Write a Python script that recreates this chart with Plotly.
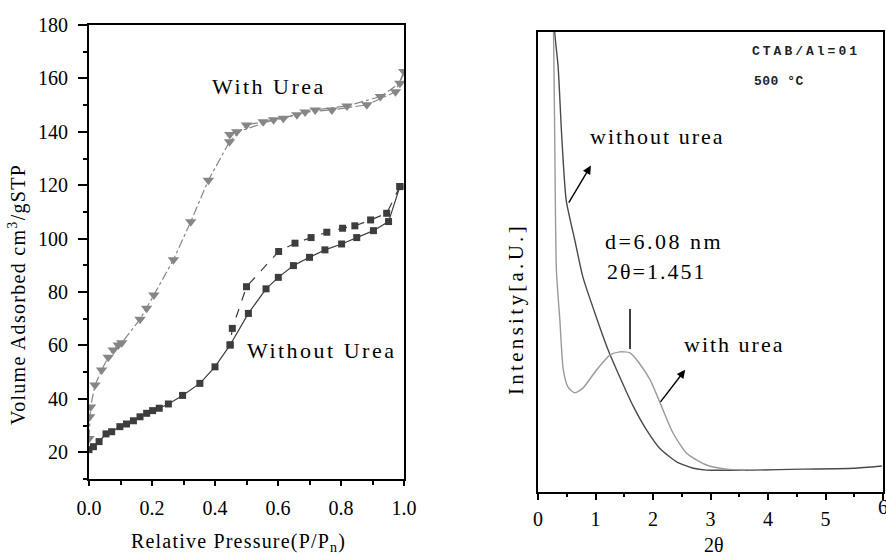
import plotly.graph_objects as go

# ---------------- Left panel: N2 isotherms ----------------
urea_ads_x = [0.0, 0.002, 0.005, 0.019, 0.04, 0.061, 0.077, 0.093, 0.104, 0.162, 0.183, 0.206,
              0.268, 0.323, 0.379, 0.446, 0.5, 0.553, 0.617, 0.686, 0.771, 0.882, 0.973, 1.0]
urea_ads_y = [25.2, 33.3, 37.0, 45.2, 50.8, 55.6, 58.3, 60.2, 61.0, 69.8, 73.9, 78.9,
              92.1, 106.3, 121.9, 136.3, 142.6, 143.8, 145.1, 147.4, 148.2, 150.1, 155.0, 162.6]
urea_des_x = [1.0, 0.987, 0.925, 0.819, 0.718, 0.66, 0.586, 0.469, 0.447]
urea_des_y = [162.6, 158.2, 153.2, 149.7, 148.2, 146.4, 144.5, 140.0, 139.0]

nourea_ads_x = [0.0, 0.014, 0.032, 0.054, 0.072, 0.098, 0.119, 0.141, 0.162, 0.183, 0.202, 0.223,
                0.252, 0.297, 0.352, 0.4, 0.448, 0.506, 0.562, 0.601, 0.649, 0.7, 0.749, 0.802,
                0.85, 0.903, 0.951, 0.987]
nourea_ads_y = [21.0, 22.1, 24.0, 26.9, 27.7, 29.6, 30.6, 31.8, 33.3, 34.6, 35.6, 36.5,
                38.1, 41.3, 45.8, 52.0, 60.2, 72.0, 81.2, 85.5, 89.9, 93.0, 95.8, 98.0,
                100.4, 103.0, 106.4, 119.5]
nourea_des_x = [0.987, 0.945, 0.894, 0.844, 0.805, 0.755, 0.705, 0.654, 0.602, 0.5, 0.455, 0.448]
nourea_des_y = [119.5, 109.5, 107.0, 104.8, 103.9, 102.4, 100.4, 98.3, 95.2, 82.0, 66.4, 60.2]

left_yticks = [20, 40, 60, 80, 100, 120, 140, 160, 180]
left_xticks = [0.0, 0.2, 0.4, 0.6, 0.8, 1.0]

# ---------------- Right panel: XRD patterns ----------------
xrd_nourea_x = [0.27, 0.29, 0.35, 0.41, 0.49, 0.64, 0.78, 0.99, 1.22, 1.42, 1.66, 1.89, 2.12,
                2.41, 2.70, 2.93, 3.75, 4.6, 5.49, 5.98]
xrd_nourea_y = [110, 100, 92.4, 77.9, 63.4, 54.7, 46.7, 38.8, 30.8, 25.0, 18.5, 13.4, 9.4,
                6.5, 5.1, 4.7, 4.7, 4.9, 5.1, 5.6]
xrd_urea_x = [0.25, 0.27, 0.29, 0.32, 0.38, 0.44, 0.52, 0.64, 0.78, 1.02, 1.25, 1.42, 1.60,
              1.74, 1.95, 2.15, 2.35, 2.59, 2.93, 3.28, 3.6]
xrd_urea_y = [110, 100, 78, 48.2, 37.3, 26.5, 22.8, 21.5, 22.5, 26.5, 29.7, 30.4, 30.2,
              28.3, 24.3, 18.5, 12.7, 8.3, 5.8, 4.9, 4.7]
right_xticks = [0, 1, 2, 3, 4, 5, 6]
peak_marker_x = 1.6

SERIF = "Liberation Serif, Times New Roman, DejaVu Serif, serif"
MONO = "Liberation Mono, DejaVu Sans Mono, monospace"
W, H = 886, 556


def px2paper(x, y):
    return x / W, 1 - y / H


def spaced(text, ls):
    return f'<span style="letter-spacing:{ls}px">{text}</span>'


fig = go.Figure()

DARK = "#3d3d3d"
GRAY = "#868686"

fig.add_trace(go.Scatter(x=urea_ads_x, y=urea_ads_y, mode="lines+markers",
                         line=dict(color=GRAY, width=1.2, dash="dashdot"),
                         marker=dict(symbol="triangle-down", size=10, color=GRAY),
                         xaxis="x", yaxis="y", showlegend=False))
fig.add_trace(go.Scatter(x=urea_des_x, y=urea_des_y, mode="lines+markers",
                         line=dict(color=GRAY, width=1.2, dash="dashdot"),
                         marker=dict(symbol="triangle-down", size=10, color=GRAY),
                         xaxis="x", yaxis="y", showlegend=False))
fig.add_trace(go.Scatter(x=nourea_ads_x, y=nourea_ads_y, mode="lines+markers",
                         line=dict(color=DARK, width=1.2),
                         marker=dict(symbol="square", size=7, color=DARK),
                         xaxis="x", yaxis="y", showlegend=False))
fig.add_trace(go.Scatter(x=nourea_des_x, y=nourea_des_y, mode="lines+markers",
                         line=dict(color=DARK, width=1.2, dash="dash"),
                         marker=dict(symbol="square", size=7, color=DARK),
                         xaxis="x", yaxis="y", showlegend=False))

fig.add_trace(go.Scatter(x=xrd_nourea_x, y=xrd_nourea_y, mode="lines",
                         line=dict(color="#4a4a4a", width=1.4, shape="spline", smoothing=0.6),
                         xaxis="x2", yaxis="y2", showlegend=False))
fig.add_trace(go.Scatter(x=xrd_urea_x, y=xrd_urea_y, mode="lines",
                         line=dict(color="#9a9a9a", width=1.4, shape="spline", smoothing=0.6),
                         xaxis="x2", yaxis="y2", showlegend=False))

tickfont = dict(family=SERIF, size=20, color="black")

fig.update_layout(
    width=W, height=H,
    margin=dict(l=0, r=0, t=0, b=0, autoexpand=False),
    paper_bgcolor="white", plot_bgcolor="white",
    font=dict(family=SERIF, color="black"),
    xaxis=dict(domain=[89 / W, 404 / W], range=[0, 1], tickvals=left_xticks,
               ticktext=[f"{v:.1f}" for v in left_xticks],
               ticks="outside", ticklen=5, tickwidth=1.5, tickcolor="black",
               minor=dict(dtick=0.1, tick0=0, ticks="outside", ticklen=4, tickwidth=1.5, tickcolor="black"),
               showline=True, linecolor="black", linewidth=2, mirror=True,
               showgrid=False, zeroline=False, tickfont=tickfont, ticklabelstandoff=5,
               automargin=False, anchor="y"),
    yaxis=dict(domain=[1 - 479 / H, 1 - 25 / H], range=[10, 180], tickvals=left_yticks,
               ticks="outside", ticklen=9, tickwidth=1.5, tickcolor="black",
               minor=dict(dtick=10, tick0=0, ticks="outside", ticklen=4, tickwidth=1.5, tickcolor="black"),
               showline=True, linecolor="black", linewidth=2, mirror=True,
               showgrid=False, zeroline=False, tickfont=tickfont, ticklabelstandoff=6,
               automargin=False, anchor="x"),
    xaxis2=dict(domain=[538 / W, 883 / W], range=[0, 6], tickvals=right_xticks,
                ticks="outside", ticklen=6, tickwidth=1.5, tickcolor="black",
                minor=dict(dtick=0.5, tick0=0, ticks="outside", ticklen=3, tickwidth=1.5, tickcolor="black"),
                showline=True, linecolor="black", linewidth=2, mirror=True,
                showgrid=False, zeroline=False, tickfont=tickfont, ticklabelstandoff=2,
                automargin=False, anchor="y2"),
    yaxis2=dict(domain=[1 - 491.7 / H, 1 - 31.7 / H], range=[0, 100],
                showticklabels=False, ticks="",
                showline=True, linecolor="black", linewidth=1.5, mirror=True,
                showgrid=False, zeroline=False, automargin=False, anchor="x2"),
)

ann = []

# axis titles
x, y = px2paper(17, 295)
ann.append(dict(text=spaced("Volume Adsorbed cm<sup>3</sup>/gSTP", 1.3), x=x, y=y, xref="paper", yref="paper",
                textangle=-90, showarrow=False, font=dict(family=SERIF, size=20, color="black"),
                xanchor="center", yanchor="middle"))
x, y = px2paper(239, 542)
ann.append(dict(text=spaced("Relative Pressure(P/P<sub>n</sub>)", 1.2), x=x, y=y, xref="paper", yref="paper",
                showarrow=False, font=dict(family=SERIF, size=20, color="black"),
                xanchor="center", yanchor="middle"))
x, y = px2paper(516, 309)
ann.append(dict(text=spaced("Intensity[a.U.]", 3.3), x=x, y=y, xref="paper", yref="paper",
                textangle=-90, showarrow=False, font=dict(family=SERIF, size=21, color="black"),
                xanchor="center", yanchor="middle"))
x, y = px2paper(714, 545)
ann.append(dict(text="2θ", x=x, y=y, xref="paper", yref="paper",
                showarrow=False, font=dict(family=SERIF, size=20, color="black"),
                xanchor="center", yanchor="middle"))

# last tick label of the right panel (cut by the page edge, as in the reference)
ann.append(dict(text=str(right_xticks[-1]), x=right_xticks[-1], y=1 - 507 / H, xref="x2", yref="paper",
                showarrow=False, font=tickfont, xanchor="center", yanchor="middle"))

# left panel labels
ann.append(dict(text=spaced("With Urea", 2.5), x=0.571, y=157.1, xref="x", yref="y", showarrow=False,
                font=dict(family=SERIF, size=22, color="black"), xanchor="center", yanchor="middle"))
ann.append(dict(text=spaced("Without Urea", 2.5), x=0.737, y=58.3, xref="x", yref="y", showarrow=False,
                font=dict(family=SERIF, size=22, color="black"), xanchor="center", yanchor="middle"))

# right panel labels
ann.append(dict(text=spaced("<b>CTAB/Al=01</b>", 3.0), x=3.69, y=95.7, xref="x2", yref="y2", showarrow=False,
                font=dict(family=MONO, size=13, color="#222"), xanchor="left", yanchor="middle"))
ann.append(dict(text=spaced("<b>500 °C</b>", 0.5), x=3.72, y=89.1, xref="x2", yref="y2", showarrow=False,
                font=dict(family=MONO, size=13, color="#222"), xanchor="left", yanchor="middle"))
ann.append(dict(text=spaced("without urea", 2), x=0.866, y=77.3, xref="x2", yref="y2", showarrow=False,
                font=dict(family=SERIF, size=22, color="black"), xanchor="left", yanchor="middle"))
ann.append(dict(text=spaced("d=6.08 nm", 2.5), x=1.127, y=54.3, xref="x2", yref="y2", showarrow=False,
                font=dict(family=SERIF, size=22, color="black"), xanchor="left", yanchor="middle"))
ann.append(dict(text=spaced("2θ=1.451", 2), x=1.16, y=47.8, xref="x2", yref="y2", showarrow=False,
                font=dict(family=SERIF, size=22, color="black"), xanchor="left", yanchor="middle"))
ann.append(dict(text=spaced("with urea", 2), x=2.5, y=32.1, xref="x2", yref="y2", showarrow=False,
                font=dict(family=SERIF, size=22, color="black"), xanchor="left", yanchor="middle"))

# arrows
ann.append(dict(text="", x=0.92, y=70.9, ax=0.52, ay=62.5, xref="x2", yref="y2", axref="x2", ayref="y2",
                showarrow=True, arrowhead=2, arrowsize=1.2, arrowwidth=1.4, arrowcolor="black"))
ann.append(dict(text="", x=2.56, y=26.5, ax=2.11, ay=19.2, xref="x2", yref="y2", axref="x2", ayref="y2",
                showarrow=True, arrowhead=2, arrowsize=1.2, arrowwidth=1.4, arrowcolor="black"))

fig.update_layout(annotations=ann)

fig.add_shape(type="line", x0=peak_marker_x, x1=peak_marker_x, y0=31.0, y1=39.7,
              xref="x2", yref="y2", line=dict(color="black", width=1.5))

fig.write_html("out.html")
